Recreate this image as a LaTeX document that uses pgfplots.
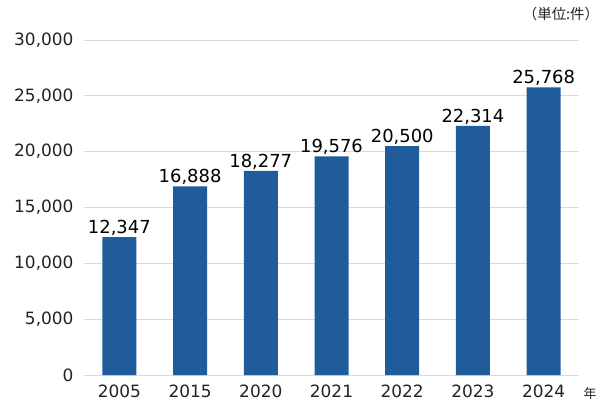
\documentclass[border=0pt]{standalone}
\usepackage{fontspec}
\setmainfont{DejaVu Sans}
\newfontfamily\jp{Noto Sans CJK JP}
\usepackage{pgfplots}
\pgfplotsset{compat=1.18}
\definecolor{barblue}{HTML}{1F5C99}
\definecolor{gridgray}{HTML}{D9D9D9}
\definecolor{txt}{HTML}{222222}

\begin{document}
\begin{tikzpicture}[x=1bp,y=1bp]
\useasboundingbox (-84,-38) rectangle (519,375);
\begin{axis}[
    at={(0,0)}, anchor=south west,
    scale only axis,
    width=495bp, height=335bp,
    xmin=-0.5, xmax=6.5,
    ymin=0, ymax=30000,
    ytick={0,5000,...,30000},
    xtick=data,
    xticklabels={2005,2015,2020,2021,2022,2023,2024},
    ymajorgrids, grid style={gridgray, line width=0.8pt},
    axis x line*=bottom, axis y line*=left,
    x axis line style={gridgray, line width=0.8pt, -},
    y axis line style={draw=none},
    major tick length=0pt,
    tick label style={font=\fontsize{17}{19}\selectfont, text=txt},
    yticklabel style={xshift=-7bp},
    xticklabel style={yshift=-6bp},
    /pgf/number format/assume math mode=true,
    scaled y ticks=false,
    yticklabel={\pgfmathprintnumber[1000 sep={,}]{\tick}},
    nodes near coords={\pgfmathprintnumber[1000 sep={,}]{\pgfplotspointmeta}},
    nodes near coords style={font=\fontsize{18}{20}\selectfont, text=black, yshift=-2bp},
    point meta=explicit,
    clip=false,
]
\addplot[ybar, bar width=34bp, fill=barblue, draw=none] coordinates {
    (0,12347) [12347]
    (1,16888) [16888]
    (2,18277) [18277]
    (3,19576) [19576]
    (4,20500) [20500]
    (5,22314) [22314]
    (6,25768) [25768]
};
\end{axis}
\node[font=\jp\fontsize{13}{15}\selectfont, text=txt] at (506,-19) {年};
\node[font=\jp\fontsize{14.5}{16}\selectfont, text=txt] at (477,361) {（単位:件）};
\end{tikzpicture}
\end{document}
